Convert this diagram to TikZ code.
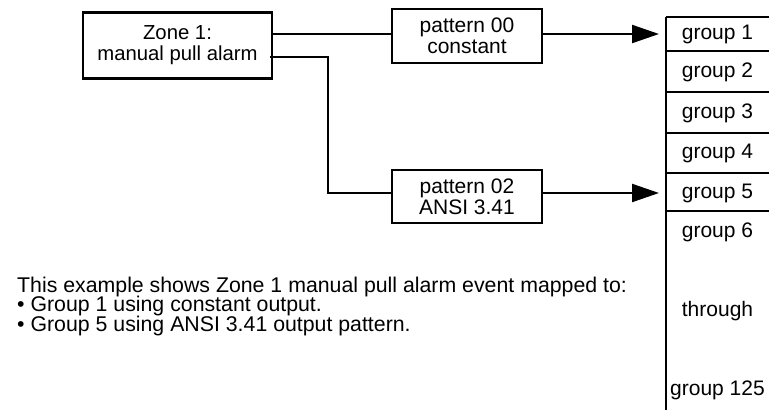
\documentclass[tikz,border=0pt]{standalone}
\usepackage{fontspec}
\setmainfont{Liberation Sans}
\usetikzlibrary{arrows.meta}
\begin{document}
\begin{tikzpicture}[x=1pt,y=-1pt,
  every node/.style={font=\fontsize{21}{21}\selectfont, inner sep=0pt},
  box/.style={draw, line width=2.2pt, align=center},
  wire/.style={line width=2.2pt},
  arr/.style={wire, -{Triangle[length=27pt,width=18pt]}, shorten >=7pt},
  cell/.style={minimum width=103pt, anchor=center},
  plain/.style={anchor=base west, font=\fontsize{21.3}{21}\selectfont}]
\useasboundingbox (0,0) rectangle (769,410);
% source and pattern boxes
\node[box, minimum width=189pt, minimum height=66pt, font=\fontsize{20.3}{21}\selectfont] (zone) at (177.5,45.5) {Zone 1:\\manual pull alarm};
\node[box, minimum width=150pt, minimum height=54pt] (p0) at (467,36) {pattern 00\\constant};
\node[box, minimum width=150pt, minimum height=53pt] (p2) at (467,196.5) {pattern 02\\ANSI 3.41};
% group column
\node[cell] (g1) at (717.5,34) {group 1};
\node[cell] (g2) at (717.5,72) {group 2};
\node[cell] (g3) at (717.5,113) {group 3};
\node[cell] (g4) at (717.5,153) {group 4};
\node[cell] (g5) at (717.5,193) {group 5};
\node[cell] (g6) at (717.5,232) {group 6};
\node[cell] (thr) at (717.5,311) {through};
\node[cell] (g125) at (717.5,390) {group 125};
\draw[wire] (666,17) -- (666,410);
\foreach \yy in {17,51,92,133,173,211} \draw[wire] (666,\yy) -- (769,\yy);
% connectors
\coordinate (z1) at (zone.east |- 0,34);
\coordinate (z2) at ([xshift=-3pt]zone.east |- 0,57);
\coordinate (bend) at (328,57);
\draw[wire] (z1) -- (p0.west |- z1);
\draw[wire] (z2) -- (bend) -- (bend |- g5.west) -- (p2.west |- g5.west);
\draw[arr] (p0.east |- z1) -- (g1.west -| 666,0);
\draw[arr] (p2.east |- g5.west) -- (g5.west -| 666,0);
% explanation
\node[plain] (t1) at (17,292) {This example shows Zone 1 manual pull alarm event mapped to:};
\node[plain] (t2) at (17,311.5) {• Group 1 using constant output.};
\node[plain] (t3) at (17,331) {• Group 5 using ANSI 3.41 output pattern.};
\end{tikzpicture}
\end{document}
